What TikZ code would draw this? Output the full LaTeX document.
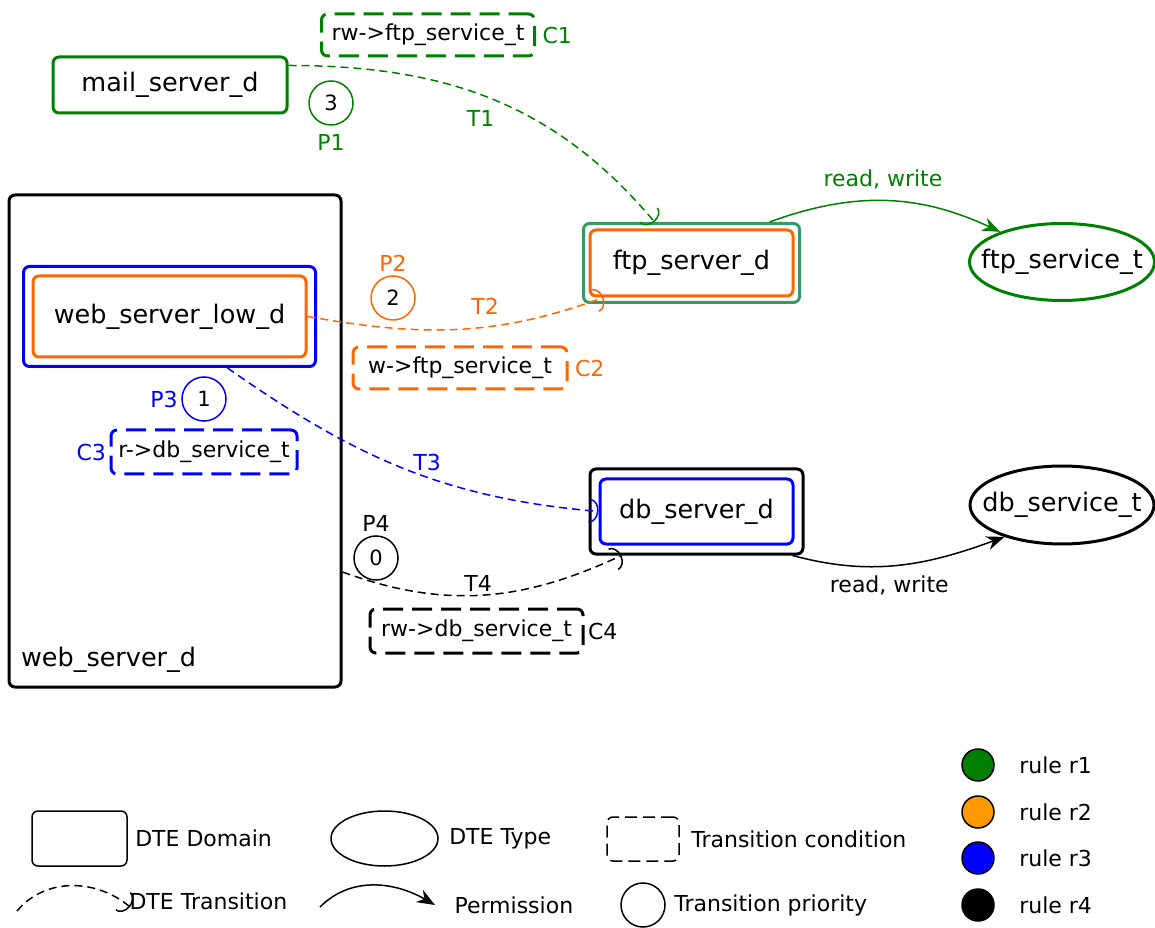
\documentclass[tikz,border=0pt]{standalone}
\usepackage{fontspec}
\setmainfont{DejaVu Sans}
\usepackage{tikz}
\usetikzlibrary{positioning}
\usetikzlibrary{shapes.geometric,fit}
\usetikzlibrary{arrows.meta}
\definecolor{rgreen}{RGB}{0,128,0}
\definecolor{rorange}{RGB}{255,102,0}
\definecolor{rblue}{RGB}{0,0,255}
\definecolor{seagreen}{RGB}{55,153,102}
\definecolor{lorange}{RGB}{255,153,0}
\tikzset{>=Stealth}

\begin{document}
\begin{tikzpicture}[x=1pt, y=1pt,
    dtedom/.style={draw, rounded corners=6pt, line width=3pt, inner sep=0pt, font=\fontsize{25.5}{30}\selectfont},
    dtetype/.style={ellipse, draw, line width=3pt, inner xsep=-25pt, inner ysep=0pt, font=\fontsize{25.5}{30}\selectfont},
    dtecond/.style={draw, rounded corners=6pt, line width=3pt, dash pattern=on 20pt off 9pt, inner sep=0pt, font=\fontsize{22}{26}\selectfont},
    prio/.style={circle, draw, line width=1.5pt, minimum size=44pt, inner sep=0pt, font=\fontsize{21}{25}\selectfont},
    lbl/.style={font=\fontsize{22}{26}\selectfont},
    trans/.style={line width=1.5pt, dash pattern=on 8pt off 5pt, -{Arc Barb[length=9pt, width=24pt]}},
    perm/.style={line width=1.5pt, -{Stealth[length=18pt, width=14pt]}},
    rulemark/.style={circle, draw, line width=1.5pt, minimum size=32pt, inner sep=0pt}]
    \useasboundingbox (0,0) rectangle (1155,927);

    % 1. Domains
    \node[dtedom, minimum width=332pt, minimum height=492pt,
        label={[anchor=south west, xshift=10pt, yshift=12pt, font=\fontsize{25.5}{30}\selectfont]south west:web\_server\_d}] (web) at (175,486) {};
    \node[dtedom, draw=rgreen, minimum width=234pt, minimum height=56pt] (mail) at (170,842) {mail\_server\_d};
    \node[dtedom, draw=rorange, minimum width=273pt, minimum height=81pt] (lowin) at (169.5,610.5) {web\_server\_low\_d};
    \node[dtedom, draw=rblue, fit=(lowin), inner sep=8pt] (lowout) {};
    \node[dtedom, draw=rorange, minimum width=203pt, minimum height=66pt] (ftpin) at (691.5,664) {ftp\_server\_d};
    \node[dtedom, draw=seagreen, fit=(ftpin), inner sep=5pt] (ftpout) {};
    \node[dtedom, draw=rblue, minimum width=193pt, minimum height=65pt] (dbin) at (696.5,415.5) {db\_server\_d};
    \node[dtedom, fit=(dbin), inner sep=8.5pt] (dbout) {};

    % 2. Types
    \node[dtetype, draw=rgreen, minimum width=185pt, minimum height=77pt] (ftpsvc) at (1062,665) {ftp\_service\_t};
    \node[dtetype, minimum width=184pt, minimum height=78pt] (dbsvc) at (1062,422) {db\_service\_t};

    % 3. Transition conditions
    \node[dtecond, draw=rgreen, minimum width=213pt, minimum height=42pt,
        label={[lbl, text=rgreen, xshift=3pt]right:C1}] (c1) at (428,892) {rw->ftp\_service\_t};
    \node[dtecond, draw=rorange, minimum width=214pt, minimum height=42pt,
        label={[lbl, text=rorange, xshift=3pt]right:C2}] (c2) at (460,559) {w->ftp\_service\_t};
    \node[dtecond, draw=rblue, minimum width=186pt, minimum height=44pt,
        label={[lbl, text=rblue]left:C3}] (c3) at (204,475) {r->db\_service\_t};
    \node[dtecond, minimum width=213pt, minimum height=44pt,
        label={[lbl]right:C4}] (c4) at (476.5,296) {rw->db\_service\_t};

    % 4. Transition priorities
    \node[prio, draw=rgreen, label={[lbl, text=rgreen, yshift=-5pt]below:P1}] (p1) at (331,824) {3};
    \node[prio, draw=rorange, label={[lbl, text=rorange]above:P2}] (p2) at (393,629) {2};
    \node[prio, draw=rblue, label={[lbl, text=rblue]left:P3}] (p3) at (204,528) {1};
    \node[prio, label={[lbl]above:P4}] (p4) at (376,369) {0};

    % 5. Transitions
    \draw[trans, rgreen] ([yshift=-10pt]mail.north east) to[out=0, in=130]
        node[lbl, pos=0.5, below left, xshift=6pt, yshift=-7pt] {T1} ([xshift=-37pt]ftpout.north);
    \draw[trans, rorange] (lowin.east) to[out=-10, in=200]
        node[lbl, pos=0.6, above, yshift=9pt] {T2} ([xshift=15pt]ftpin.south west);
    \draw[trans, rblue] ([xshift=58pt]lowout.south) to[out=-35, in=175]
        node[lbl, pos=0.57, above, yshift=2pt] {T3} (dbin.west);
    \draw[trans] ([yshift=-131pt]web.east) to[out=-20, in=205]
        node[lbl, pos=0.48, above] {T4} ([xshift=-75pt]dbout.south);

    % 6. Permissions
    \draw[perm, rgreen] ([xshift=78pt]ftpout.north) to[out=20, in=155]
        node[lbl, above, yshift=8pt, xshift=-3pt] {read, write} (ftpsvc.154);
    \draw[perm] ([xshift=-12pt]dbout.south east) to[out=-15, in=200]
        node[lbl, below, pos=0.45, yshift=-6pt] {read, write} (dbsvc.209);

    % 7. Legend
    \node[dtedom, line width=1.5pt, minimum width=95pt, minimum height=55pt] (lgdom) at (79.5,88.5) {};
    \node[lbl, right=4pt of lgdom] (lgdomtxt) {DTE Domain};
    \node[dtetype, line width=1.5pt, minimum width=107pt, minimum height=55pt] (lgtype) at (384.5,88.5) {};
    \node[lbl, right=7pt of lgtype] (lgtypetxt) {DTE Type};
    \node[dtecond, line width=1.5pt, dash pattern=on 12pt off 6pt, minimum width=72pt, minimum height=44pt] (lgcond) at (643,88) {};
    \node[lbl, right=8pt of lgcond] (lgcondtxt) {Transition condition};
    \node[prio] (lgprio) at (643,22) {};
    \node[lbl, right=5pt of lgprio] (lgpriotxt) {Transition priority};

    \coordinate (lgt1) at (17,16);
    \coordinate (lgt2) at (130,20);
    \draw[trans] (lgt1) to[out=50, in=140] (lgt2);
    \node[lbl, right=-4pt of lgt2, yshift=6pt] (lgtranstxt) {DTE Transition};
    \coordinate (lgp1) at (320,20);
    \coordinate (lgp2) at (435,22);
    \draw[perm] (lgp1) to[out=45, in=150] (lgp2);
    \node[lbl, right=16pt of lgp2] (lgpermtxt) {Permission};

    % rules
    \node[rulemark, fill=rgreen] (r1) at (978,162) {};
    \node[lbl, right=21pt of r1] (r1txt) {rule r1};
    \node[rulemark, fill=lorange] (r2) at (978,115) {};
    \node[lbl, right=21pt of r2] (r2txt) {rule r2};
    \node[rulemark, fill=rblue] (r3) at (978,69) {};
    \node[lbl, right=21pt of r3] (r3txt) {rule r3};
    \node[rulemark, fill=black] (r4) at (978,22) {};
    \node[lbl, right=21pt of r4] (r4txt) {rule r4};
\end{tikzpicture}
\end{document}
